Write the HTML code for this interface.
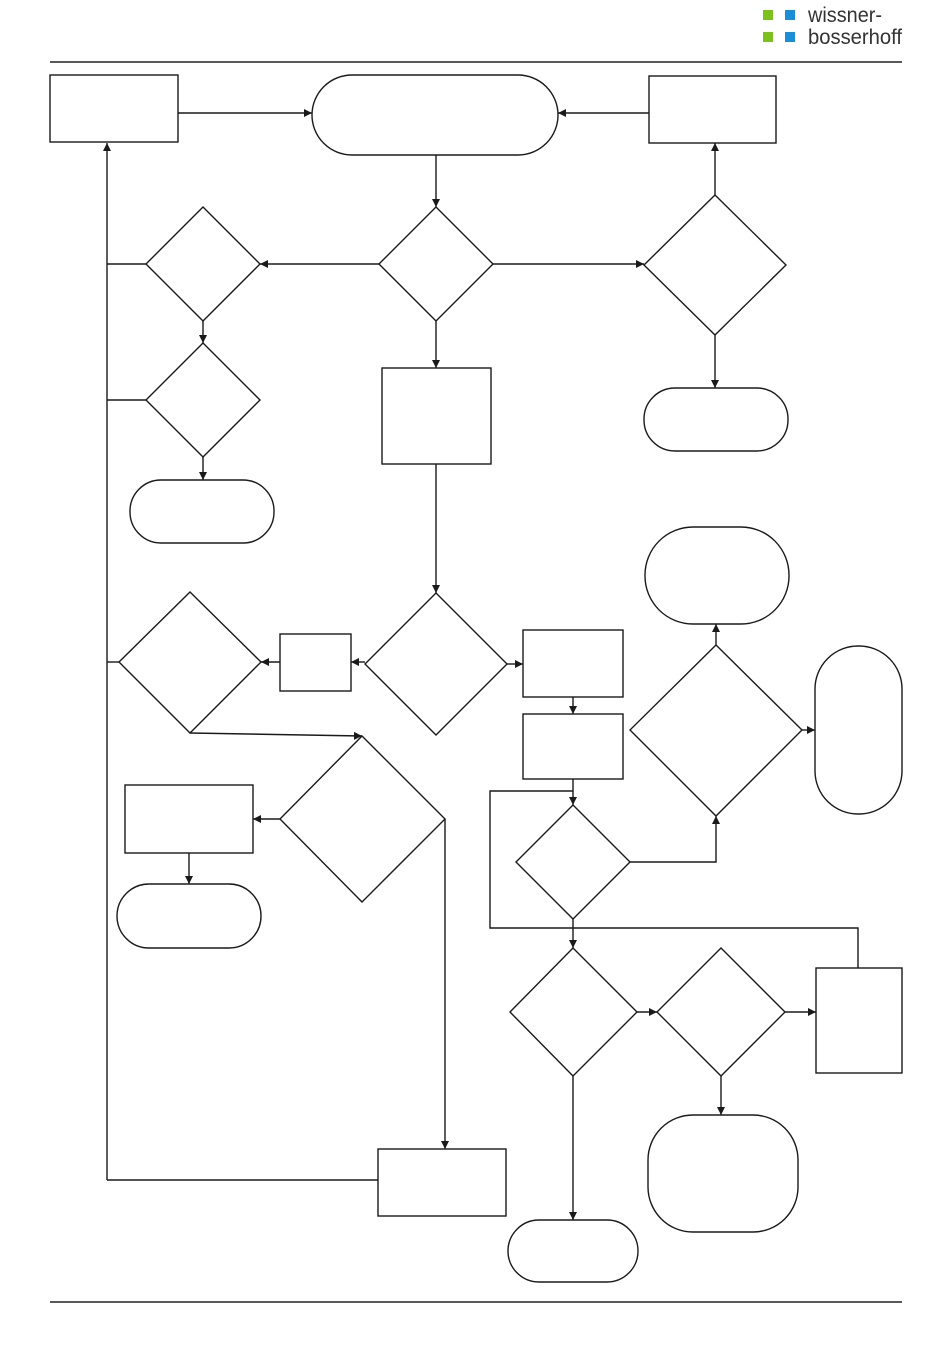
<!DOCTYPE html>
<html><head><meta charset="utf-8"><style>
html,body{margin:0;padding:0;background:#fff;}
svg{display:block;}
</style></head><body>
<svg width="950" height="1353" viewBox="0 0 950 1353" xmlns="http://www.w3.org/2000/svg">
<defs>
<marker id="a" viewBox="0 0 10 10" refX="10" refY="5" markerWidth="8" markerHeight="8" markerUnits="userSpaceOnUse" orient="auto">
<path d="M0,0 L10,5 L0,10 z" fill="#1a1a1a"/></marker>
</defs>
<rect x="763" y="10" width="10" height="10" fill="#7dc11f"/>
<rect x="785" y="10" width="10" height="10" fill="#1a8fd8"/>
<rect x="763" y="32" width="10" height="10" fill="#7dc11f"/>
<rect x="785" y="32" width="10" height="10" fill="#1a8fd8"/>
<text x="808" y="22" font-family="Liberation Sans, sans-serif" font-size="21" fill="#333" textLength="74" lengthAdjust="spacingAndGlyphs">wissner-</text>
<text x="808" y="44" font-family="Liberation Sans, sans-serif" font-size="21" fill="#333" textLength="94" lengthAdjust="spacingAndGlyphs">bosserhoff</text>
<line x1="50" y1="62" x2="902" y2="62" stroke="#222" stroke-width="1.5"/>
<line x1="50" y1="1302" x2="902" y2="1302" stroke="#222" stroke-width="1.5"/>

<g fill="none" stroke="#1a1a1a" stroke-width="1.4">
<rect x="50" y="75" width="128" height="67"/>
<rect x="312" y="75" width="246" height="80" rx="40"/>
<rect x="649" y="76" width="127" height="67"/>
<polygon points="436,207 493,264 436,321 379,264"/>
<polygon points="203,207 260,264 203,321 146,264"/>
<polygon points="715,195 786,265 715,335 644,265"/>
<rect x="644" y="388" width="144" height="63" rx="31"/>
<polygon points="203,343 260,400 203,457 146,400"/>
<rect x="130" y="480" width="144" height="63" rx="31"/>
<rect x="382" y="368" width="109" height="96"/>
<polygon points="436,593 507,664 436,735 365,664"/>
<rect x="280" y="634" width="71" height="57"/>
<polygon points="190,592 261,662 190,733 119,662"/>
<polygon points="362,736 445,819 362,902 280,819"/>
<rect x="125" y="785" width="128" height="68"/>
<rect x="117" y="884" width="144" height="64" rx="32"/>
<rect x="378" y="1149" width="128" height="67"/>
<rect x="523" y="630" width="100" height="67"/>
<rect x="523" y="714" width="100" height="65"/>
<polygon points="573,805 630,862 573,919 516,862"/>
<polygon points="716,645 802,730 716,816 630,730"/>
<rect x="645" y="527" width="144" height="97" rx="48"/>
<rect x="815" y="646" width="87" height="168" rx="43"/>
<polygon points="573,948 637,1012 573,1076 510,1012"/>
<polygon points="721,948 785,1012 721,1076 657,1012"/>
<rect x="816" y="968" width="86" height="105"/>
<rect x="648" y="1115" width="150" height="117" rx="45"/>
<rect x="508" y="1220" width="130" height="62" rx="31"/>

<line x1="178" y1="113" x2="312" y2="113" marker-end="url(#a)"/>
<line x1="649" y1="113" x2="558" y2="113" marker-end="url(#a)"/>
<line x1="436" y1="155" x2="436" y2="207" marker-end="url(#a)"/>
<line x1="379" y1="264" x2="260" y2="264" marker-end="url(#a)"/>
<line x1="493" y1="264" x2="644" y2="264" marker-end="url(#a)"/>
<line x1="715" y1="195" x2="715" y2="143" marker-end="url(#a)"/>
<line x1="715" y1="335" x2="715" y2="388" marker-end="url(#a)"/>
<line x1="203" y1="321" x2="203" y2="343" marker-end="url(#a)"/>
<line x1="203" y1="457" x2="203" y2="480" marker-end="url(#a)"/>
<polyline points="107,1180 107,143" marker-end="url(#a)"/>
<line x1="146" y1="264" x2="107" y2="264"/>
<line x1="146" y1="400" x2="107" y2="400"/>
<line x1="119" y1="662" x2="107" y2="662"/>
<line x1="378" y1="1180" x2="107" y2="1180"/>
<line x1="436" y1="321" x2="436" y2="368" marker-end="url(#a)"/>
<line x1="436" y1="464" x2="436" y2="593" marker-end="url(#a)"/>
<line x1="365" y1="662" x2="351" y2="662" marker-end="url(#a)"/>
<line x1="280" y1="662" x2="261" y2="662" marker-end="url(#a)"/>
<line x1="190" y1="733" x2="362" y2="736" marker-end="url(#a)"/>
<line x1="280" y1="819" x2="253" y2="819" marker-end="url(#a)"/>
<line x1="189" y1="853" x2="189" y2="884" marker-end="url(#a)"/>
<polyline points="445,819 445,1149" marker-end="url(#a)"/>
<line x1="507" y1="664" x2="523" y2="664" marker-end="url(#a)"/>
<line x1="573" y1="697" x2="573" y2="714" marker-end="url(#a)"/>
<line x1="573" y1="779" x2="573" y2="805" marker-end="url(#a)"/>
<polyline points="858,968 858,928 490,928 490,791 573,791"/>
<polyline points="630,862 716,862 716,816" marker-end="url(#a)"/>
<line x1="716" y1="645" x2="716" y2="624" marker-end="url(#a)"/>
<line x1="802" y1="730" x2="815" y2="730" marker-end="url(#a)"/>
<line x1="573" y1="919" x2="573" y2="948" marker-end="url(#a)"/>
<line x1="637" y1="1012" x2="657" y2="1012" marker-end="url(#a)"/>
<line x1="785" y1="1012" x2="816" y2="1012" marker-end="url(#a)"/>
<line x1="721" y1="1076" x2="721" y2="1115" marker-end="url(#a)"/>
<line x1="573" y1="1076" x2="573" y2="1220" marker-end="url(#a)"/>
</g>
</svg>
</body></html>
